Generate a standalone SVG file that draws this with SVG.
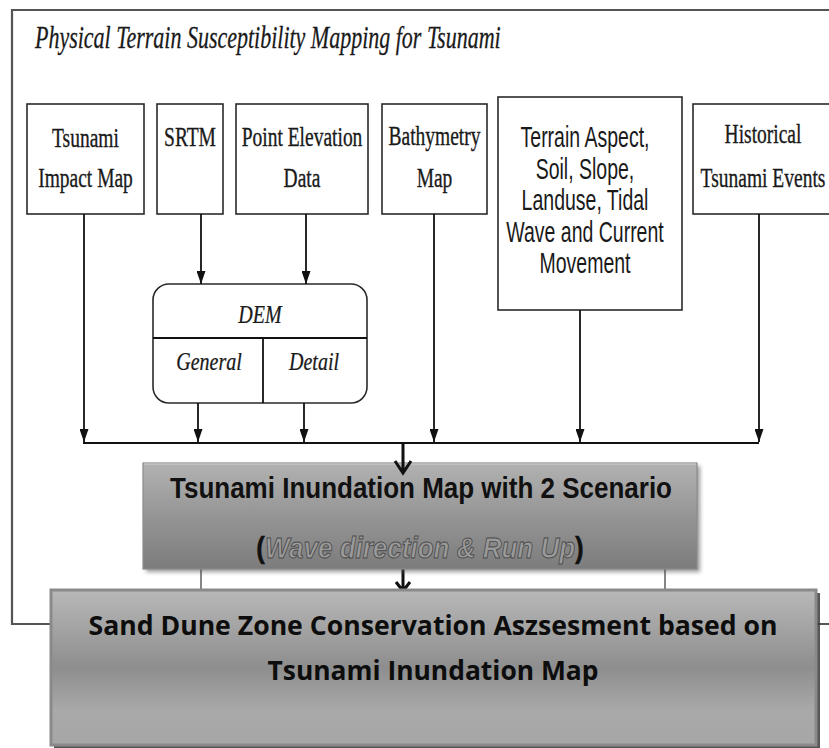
<svg xmlns="http://www.w3.org/2000/svg" width="829" height="748" viewBox="0 0 829 748">
  <style>
    .box { fill: #ffffff; stroke: #2a2a2a; stroke-width: 1.6; }
    .frame { fill: none; stroke: #555555; stroke-width: 2.2; }
    .wire { fill: none; stroke: #111111; stroke-width: 1.8; }
    .thin { fill: none; stroke: #444444; stroke-width: 1.3; }
    .thick { fill: none; stroke: #111111; stroke-width: 3; }
    .serif { font-family: "Liberation Serif", "Times New Roman", serif; font-size: 19.5px; fill: #1a1a1a; stroke: #1a1a1a; stroke-width: 0.25; text-anchor: middle; }
    .iserif { font-family: "Liberation Serif", "Times New Roman", serif; font-style: italic; font-size: 20px; fill: #1a1a1a; stroke: #1a1a1a; stroke-width: 0.2; text-anchor: middle; }
    .title { font-family: "Liberation Serif", "Times New Roman", serif; font-style: italic; font-size: 22px; fill: #1a1a1a; stroke: #1a1a1a; stroke-width: 0.2; }
    .sans { font-family: "Liberation Sans", Arial, sans-serif; font-size: 19.5px; fill: #1a1a1a; text-anchor: middle; }
    .head { font-family: "Liberation Sans", Arial, sans-serif; font-weight: bold; font-size: 26px; fill: #111111; text-anchor: middle; }
    .sub { font-family: "Liberation Sans", Arial, sans-serif; font-weight: bold; font-style: italic; fill: #9a9a9a; stroke: #4a4a4a; stroke-width: 0.8; }
    .paren { fill: #111111; stroke: #111111; stroke-width: 0.4; font-style: normal; }
    .big { font-family: "Open Sans", "Liberation Sans", Arial, sans-serif; font-weight: bold; font-size: 26px; fill: #0d0d0d; text-anchor: middle; }
  </style>
  <defs>
    <marker id="tri" viewBox="0 0 13 9" refX="13" refY="4.5" markerWidth="13" markerHeight="9" markerUnits="userSpaceOnUse" orient="auto">
      <path d="M0,0 L13,4.5 L0,9 Z" fill="#111111"/>
    </marker>
    <linearGradient id="gInund" x1="0" y1="0" x2="0" y2="1">
      <stop offset="0" stop-color="#b2b2b2"/>
      <stop offset="0.5" stop-color="#959595"/>
      <stop offset="1" stop-color="#7c7c7c"/>
    </linearGradient>
    <linearGradient id="gSand" x1="0" y1="0" x2="0" y2="1">
      <stop offset="0" stop-color="#b8b8b8"/>
      <stop offset="0.5" stop-color="#8e8e8e"/>
      <stop offset="0.78" stop-color="#a9a9a9"/>
      <stop offset="1" stop-color="#a6a6a6"/>
    </linearGradient>
    <filter id="soft" x="-5%" y="-10%" width="115%" height="130%">
      <feGaussianBlur stdDeviation="2"/>
    </filter>
  </defs>

  <rect width="829" height="748" fill="#ffffff"/>

  <!-- outer frame of the mapping stage -->
  <path class="frame" d="M832,10 H12 V624 H832"/>
  <text class="title" transform="translate(35,48) scale(1,1.4)">Physical Terrain Susceptibility Mapping for Tsunami</text>

  <!-- input data sources -->
  <g id="tsunami-impact">
    <rect class="box" x="27" y="104" width="117" height="110"/>
    <text class="serif" transform="translate(85.5,147) scale(1,1.42)">Tsunami</text>
    <text class="serif" transform="translate(85.5,187) scale(1,1.42)">Impact Map</text>
  </g>
  <g id="srtm">
    <rect class="box" x="157" y="104" width="66" height="110"/>
    <text class="serif" transform="translate(190,146) scale(1,1.42)">SRTM</text>
  </g>
  <g id="point-elevation">
    <rect class="box" x="236" y="104" width="132" height="110"/>
    <text class="serif" transform="translate(302,146) scale(1,1.42)">Point Elevation</text>
    <text class="serif" transform="translate(302,187) scale(1,1.42)">Data</text>
  </g>
  <g id="bathymetry">
    <rect class="box" x="382" y="104" width="105" height="110"/>
    <text class="serif" transform="translate(434.5,145) scale(1,1.42)">Bathymetry</text>
    <text class="serif" transform="translate(434.5,187) scale(1,1.42)">Map</text>
  </g>
  <g id="terrain">
    <rect class="box" x="498" y="97" width="184" height="213"/>
    <text class="sans" transform="translate(585,147) scale(1,1.5)">Terrain Aspect,</text>
    <text class="sans" transform="translate(585,178.5) scale(1,1.5)">Soil, Slope,</text>
    <text class="sans" transform="translate(585,210) scale(1,1.5)">Landuse, Tidal</text>
    <text class="sans" transform="translate(585,241.5) scale(1,1.5)">Wave and Current</text>
    <text class="sans" transform="translate(585,273) scale(1,1.5)">Movement</text>
  </g>
  <g id="historical">
    <rect class="box" x="693" y="104" width="142" height="110"/>
    <text class="serif" transform="translate(763,143) scale(1,1.42)">Historical</text>
    <text class="serif" transform="translate(763,187) scale(1,1.42)">Tsunami Events</text>
  </g>

  <!-- digital elevation model split into general and detail -->
  <g id="dem">
    <rect class="box" x="153" y="284" width="214" height="119" rx="16" ry="16"/>
    <line class="wire" x1="153" y1="338" x2="367" y2="338" stroke-width="1.4"/>
    <line class="wire" x1="263" y1="338" x2="263" y2="403" stroke-width="1.4"/>
    <text class="iserif" transform="translate(260,323) scale(1,1.22)">DEM</text>
    <text class="iserif" transform="translate(209,370) scale(1,1.22)">General</text>
    <text class="iserif" transform="translate(314,370) scale(1,1.22)">Detail</text>
  </g>

  <!-- connectors -->
  <g id="connectors">
    <line class="wire" x1="83" y1="443" x2="759" y2="443" stroke-width="2"/>
    <line class="wire" x1="84" y1="214" x2="84" y2="442" marker-end="url(#tri)"/>
    <line class="wire" x1="201" y1="214" x2="201" y2="284" marker-end="url(#tri)"/>
    <line class="wire" x1="306" y1="214" x2="306" y2="284" marker-end="url(#tri)"/>
    <line class="wire" x1="198" y1="403" x2="198" y2="442" marker-end="url(#tri)"/>
    <line class="wire" x1="304" y1="403" x2="304" y2="442" marker-end="url(#tri)"/>
    <line class="wire" x1="434" y1="214" x2="434" y2="442" marker-end="url(#tri)"/>
    <line class="wire" x1="580" y1="310" x2="580" y2="442" marker-end="url(#tri)"/>
    <line class="wire" x1="759" y1="214" x2="759" y2="442" marker-end="url(#tri)"/>
    <line class="thin" x1="201" y1="569" x2="201" y2="591"/>
    <line class="thin" x1="665" y1="569" x2="665" y2="591"/>
    <path class="thick" d="M403,568 V591 M396,582 L403,591 L410,582"/>
  </g>

  <!-- inundation result -->
  <g id="inundation">
    <rect x="146" y="466" width="554" height="106" fill="#555555" opacity="0.6" filter="url(#soft)"/>
    <rect x="143" y="463" width="554" height="106" fill="url(#gInund)" stroke="#8c8c8c" stroke-width="1.2"/>
    <line x1="144" y1="464" x2="696" y2="464" stroke="#d0d0d0" stroke-width="1.2"/>
    <text class="head" transform="translate(421,498) scale(1,1.17)">Tsunami Inundation Map with 2 Scenario</text>
    <text class="sub" font-size="26" text-anchor="middle" transform="translate(420,558) scale(1,1.1)"><tspan class="paren">(</tspan>Wave direction  &amp; Run Up<tspan class="paren">)</tspan></text>
  </g>
  <path class="thick" d="M403,443 V473 M395,461 L403,473 L411,461"/>

  <!-- conservation assessment -->
  <g id="assessment">
    <rect x="54" y="593" width="766" height="155" fill="#3a3a3a" opacity="0.85"/>
    <rect x="51" y="590" width="765" height="155" fill="url(#gSand)" stroke="#8a8a8a" stroke-width="3"/>
    <text class="big" x="433" y="635" textLength="689" lengthAdjust="spacingAndGlyphs">Sand Dune Zone Conservation Aszsesment based on</text>
    <text class="big" x="433" y="680" textLength="331" lengthAdjust="spacingAndGlyphs">Tsunami Inundation Map</text>
  </g>
</svg>
